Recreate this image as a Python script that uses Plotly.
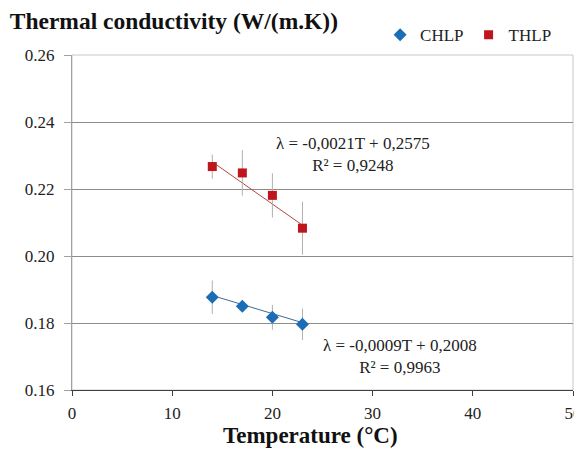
import plotly.graph_objects as go

# Data
temps = [14, 17, 20, 23]
chlp = [0.1877, 0.1850, 0.1817, 0.1796]
chlp_err = [0.0050, 0.0008, 0.0037, 0.0047]
thlp = [0.2267, 0.2248, 0.2181, 0.2083]
thlp_err = [0.0036, 0.0068, 0.0066, 0.0079]
chlp_fit = (-0.0009, 0.2008)
thlp_fit = (-0.0021, 0.2575)
x_ticks = [0, 10, 20, 30, 40, 50]
y_ticks = [0.16, 0.18, 0.20, 0.22, 0.24, 0.26]

BLUE = "#1B6DB5"
RED = "#C0151C"
SERIF = "Liberation Serif"

fit_x = [temps[0], temps[-1]]

fig = go.Figure()
fig.add_trace(go.Scatter(
    x=fit_x, y=[thlp_fit[0] * t + thlp_fit[1] for t in fit_x],
    mode="lines", line=dict(color="#B8463F", width=1), showlegend=False, hoverinfo="skip"))
fig.add_trace(go.Scatter(
    x=fit_x, y=[chlp_fit[0] * t + chlp_fit[1] for t in fit_x],
    mode="lines", line=dict(color="#3E6A94", width=1), showlegend=False, hoverinfo="skip"))
fig.add_trace(go.Scatter(
    x=temps, y=chlp, name="CHLP", mode="markers",
    marker=dict(symbol="diamond", size=10, color=BLUE),
    error_y=dict(type="data", array=chlp_err, color="#B0B0B0", thickness=1, width=0)))
fig.add_trace(go.Scatter(
    x=temps, y=thlp, name="THLP", mode="markers",
    marker=dict(symbol="square", size=9, color=RED),
    error_y=dict(type="data", array=thlp_err, color="#B0B0B0", thickness=1, width=0)))

fig.add_annotation(x=28.0, y=0.2303, xref="x", yref="y", showarrow=False,
                   text="λ = -0,0021T + 0,2575<br>R² = 0,9248",
                   font=dict(family=SERIF, size=17, color="#222"), align="center")
fig.add_annotation(x=32.7, y=0.1701, xref="x", yref="y", showarrow=False,
                   text="λ = -0,0009T + 0,2008<br>R² = 0,9963",
                   font=dict(family=SERIF, size=17, color="#222"), align="center")
# x-axis title (placed slightly left of the plot centre, as in the reference)
fig.add_annotation(x=0.477, y=-0.137, xref="paper", yref="paper", showarrow=False,
                   text="<b>Temperature (°C)</b>", xanchor="center", yanchor="middle",
                   font=dict(family=SERIF, size=23, color="#111"))

# page body has an 8px margin, so the figure is sized/offset to compensate
fig.update_layout(
    width=574, height=444,
    margin=dict(l=64, r=9, t=45, b=62),
    paper_bgcolor="white", plot_bgcolor="white",
    font=dict(family=SERIF, size=17, color="#222"),
    title=dict(text="<b>Thermal conductivity (W/(m.K))</b>", xref="container", x=0.003,
               xanchor="left", y=0.971, yanchor="middle", automargin=False,
               font=dict(family=SERIF, size=23.5, color="#111")),
    legend=dict(orientation="h", x=0.615, xanchor="left", y=1.059, yanchor="middle",
                font=dict(family=SERIF, size=17, color="#222"), bgcolor="rgba(0,0,0,0)",
                itemwidth=30, tracegroupgap=0),
    xaxis=dict(range=[0, 50], tickvals=x_ticks, ticktext=[str(v) for v in x_ticks],
               showgrid=False, zeroline=False, showline=True, linecolor="#404040", linewidth=1,
               ticks="outside", ticklen=5, tickcolor="#404040", automargin=False,
               ticklabelstandoff=3,
               tickfont=dict(family=SERIF, size=17, color="#222")),
    yaxis=dict(range=[0.16, 0.26], tickvals=y_ticks, ticktext=[f"{v:.2f}" for v in y_ticks],
               showgrid=True, gridcolor="#8C8C8C", gridwidth=1, zeroline=False,
               showline=True, linecolor="#A0A0A0", linewidth=1, ticks="outside", ticklen=7,
               tickcolor="#A0A0A0", automargin=False, ticklabelstandoff=6,
               tickfont=dict(family=SERIF, size=17, color="#222")),
    shapes=[dict(type="rect", xref="paper", yref="paper", x0=0, x1=1, y0=0, y1=1,
                 line=dict(color="#C8C8C8", width=1), fillcolor="rgba(0,0,0,0)", layer="below")],
)

fig.write_html("out.html")
